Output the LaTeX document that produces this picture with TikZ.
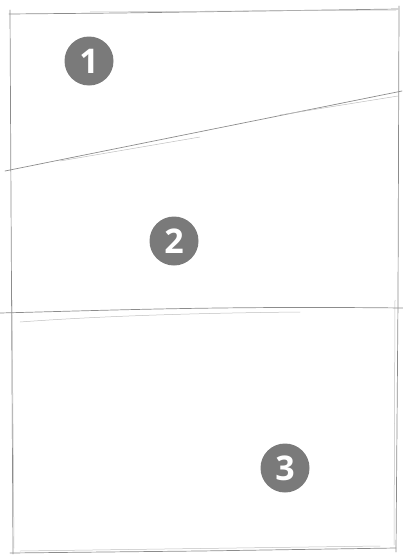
\documentclass[tikz,border=0pt]{standalone}
\usepackage{fontspec}
\setmainfont{Open Sans}
\begin{document}
\begin{tikzpicture}[x=1pt,y=-1pt,
  pencil/.style={draw=black!45,line width=0.7pt,line cap=round},
  faint/.style={draw=black!25,line width=0.5pt,line cap=round},
  badge/.style={circle,fill=black!52,minimum size=49pt,inner sep=0pt,text=white,font=\fontsize{34}{34}\selectfont\bfseries}]
\useasboundingbox (0,0) rectangle (403,557);
% outer frame
\draw[pencil] (9,14) -- (120,13) -- (398,9);
\draw[faint] (90,12) -- (396,10);
\draw[pencil] (10,10) -- (11,200) -- (13,554);
\draw[faint] (12,300) -- (14,548);
\draw[pencil] (399,6) -- (398,300) -- (396,552);
\draw[faint] (395,300) -- (394,545);
\draw[pencil] (10,553) -- (200,551) -- (396,548);
\draw[faint] (20,551) -- (380,546);
% slanted divider
\draw[pencil] (5,171) -- (402,91);
\draw[faint] (60,161) -- (200,137);
\draw[faint] (280,115) -- (398,96);
% horizontal divider
\draw[pencil] (0,313) .. controls (120,310) and (220,306) .. (403,308);
\draw[faint] (20,322) .. controls (100,316) and (200,313) .. (300,312);
% badges
\node[badge] (n1) at (89,61) {1};
\node[badge] (n2) at (174,241) {2};
\node[badge] (n3) at (285,468) {3};
\end{tikzpicture}
\end{document}
